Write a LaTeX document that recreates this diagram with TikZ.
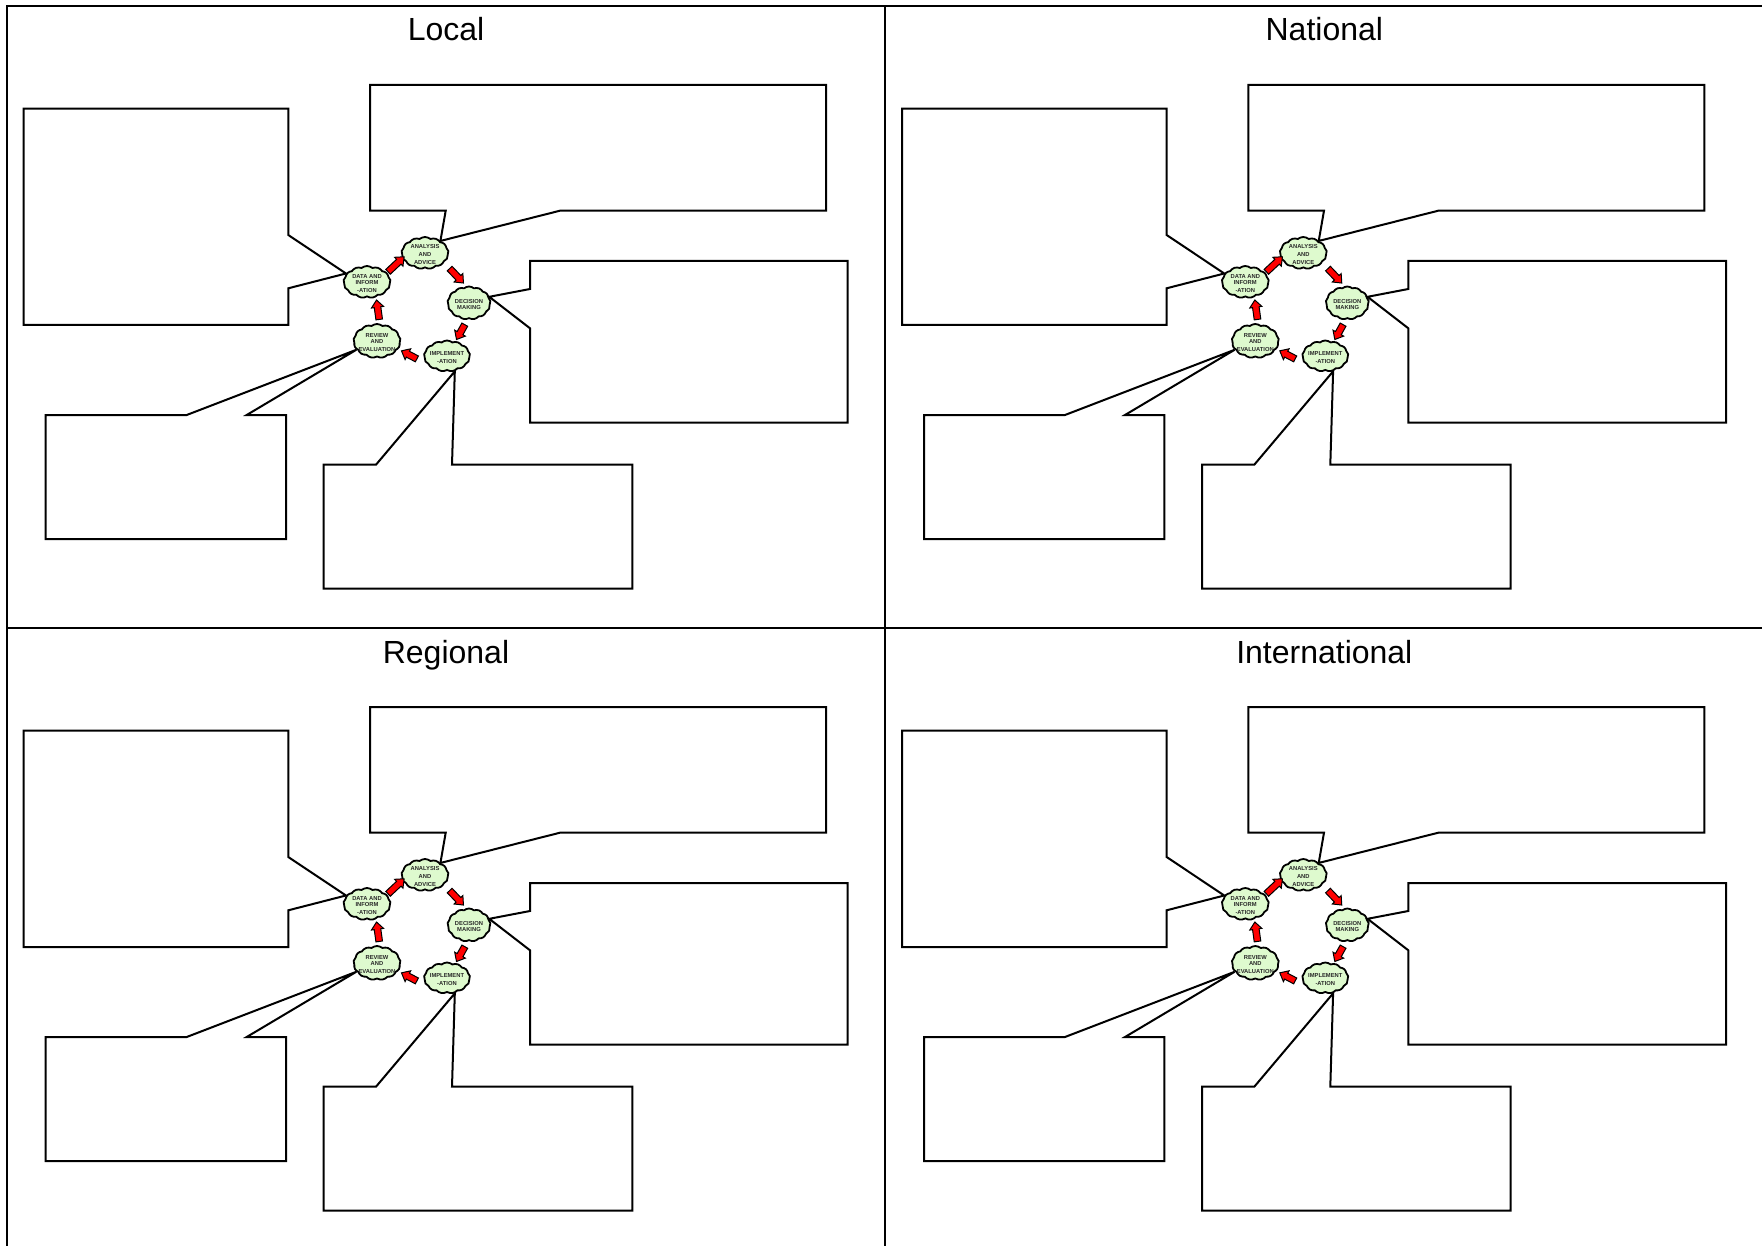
\documentclass[tikz,border=0pt]{standalone}
\usepackage{fontspec}
\setmainfont{Liberation Sans}
\usetikzlibrary{shapes.symbols,shapes.arrows}
\definecolor{cycfill}{RGB}{222,250,206}
\definecolor{cyctxt}{RGB}{40,40,40}
\tikzset{
  frame/.style={line width=1pt},
  callout/.style={draw, line width=1pt, line join=miter},
  cyc/.style={cloud, cloud puffs=13, cloud puff arc=80, cloud ignores aspect, draw, fill=cycfill, line width=0.9pt, inner sep=0pt},
  cyctext/.style={font=\bfseries\fontsize{2.9}{2.85}\selectfont, text=cyctxt, align=center, inner sep=0pt, yshift=-0.8pt},
  fatarrow/.style={single arrow, draw, fill=red, line width=0.5pt, inner xsep=0pt, inner ysep=1.4pt, single arrow head extend=1.4pt, single arrow tip angle=80, sloped, allow upside down, minimum width=5.6pt},
  quadtitle/.style={font=\fontsize{16}{19}\selectfont, anchor=base, inner sep=0pt}
}
\newcommand\drawquad[4]{%
\begin{scope}[shift={(#1,#2)}, name prefix=#3-]
  \node[quadtitle] (title) at (446,41) {#4};
  \node[cyc, minimum width=23.5pt, minimum height=16pt, label={[cyctext]center:ANALYSIS\\[1.15pt]AND\\[1.15pt]ADVICE}] (analysis) at (425,253) {};
  \node[cyc, minimum width=23.5pt, minimum height=16pt, label={[cyctext]center:DATA AND\\INFORM\\[1.15pt]-ATION}] (data) at (367,282) {};
  \node[cyc, minimum width=21.5pt, minimum height=16.5pt, label={[cyctext]center:DECISION\\MAKING}] (decision) at (469,303) {};
  \node[cyc, minimum width=23pt, minimum height=15.5pt, label={[cyctext]center:IMPLEMENT\\[1.15pt]-ATION}] (implement) at (447,356) {};
  \node[cyc, minimum width=23.5pt, minimum height=17pt, label={[cyctext]center:REVIEW\\[0.5pt]AND\\[1.15pt]EVALUATION}] (review) at (377,341) {};
  \path (data.25) -- node[fatarrow, minimum height=11pt] (arr1) {} (analysis.194);
  \path (analysis.-27) -- node[fatarrow, minimum height=10pt] (arr2) {} (decision.99);
  \path (decision.-95) -- node[fatarrow, minimum height=8.5pt] (arr3) {} (implement.60);
  \path (implement.202) -- node[fatarrow, pos=0.56, minimum height=8.7pt] (arr4) {} (review.-21);
  \path (review.81) -- node[fatarrow, pos=0.45, minimum height=9.8pt] (arr5) {} (data.-59);
  \draw[callout] (23.7,108.7) -- (288.3,108.7) -- (288.3,235) -- (data.158) -- (288.3,288.3) -- (288.3,325) -- (23.7,325) -- cycle;
  \draw[callout] (370,85) -- (826,85) -- (826,210.7) -- (560,210.7) -- (analysis.38) -- (445.7,210.7) -- (370,210.7) -- cycle;
  \draw[callout] (530,261) -- (847.7,261) -- (847.7,422.7) -- (530,422.7) -- (530,328.3) -- (decision.17) -- (530,289) -- cycle;
  \draw[callout] (45.7,415) -- (186.7,415) -- (review.203) -- (246.7,415) -- (286,415) -- (286,539) -- (45.7,539) -- cycle;
  \draw[callout] (323.7,464.7) -- (376,464.7) -- (implement.-63) -- (452,464.7) -- (632.3,464.7) -- (632.3,588.7) -- (323.7,588.7) -- cycle;
\end{scope}}
\begin{document}
\begin{tikzpicture}[x=0.5pt, y=-0.5pt]
  \useasboundingbox (0,0) rectangle (1762,1246);
  \draw[frame] (1762,6) -- (6.7,6) -- (6.7,1246);
  \draw[frame] (885,6) -- (885,1246);
  \draw[frame] (6.7,627.7) -- (1762,627.7);
  \drawquad{0}{0}{loc}{Local}
  \drawquad{878.3}{0}{nat}{National}
  \drawquad{0}{622}{reg}{Regional}
  \drawquad{878.3}{622}{int}{International}
\end{tikzpicture}
\end{document}
